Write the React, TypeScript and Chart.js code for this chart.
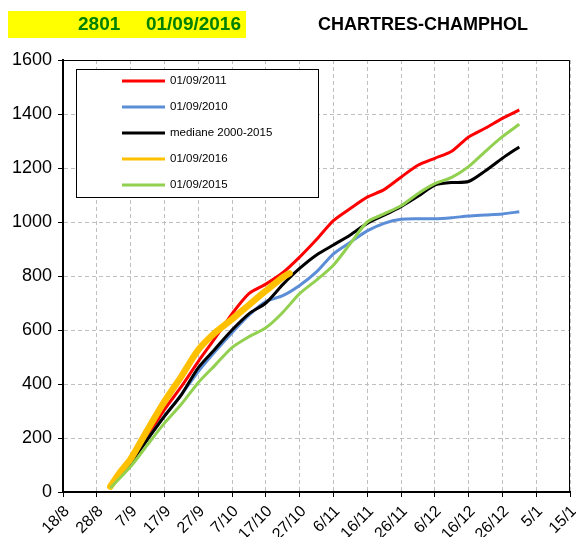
import React, { useEffect, useRef } from "react";
import { Chart, registerables } from "chart.js";

Chart.register(...registerables);

// ---- data ----
const xTickLabels = ["18/8", "28/8", "7/9", "17/9", "27/9", "7/10", "17/10", "27/10", "6/11", "16/11", "26/11", "6/12", "16/12", "26/12", "5/1", "15/1"];
const yTicks = [0, 200, 400, 600, 800, 1000, 1200, 1400, 1600];

// days counted from 18/8
const days = [14, 20, 25, 30, 35, 40, 45, 50, 55, 60, 65, 70, 75, 80, 85, 90, 95, 100, 105, 110, 115, 120, 125, 130, 135];
const red2011 = [20, 106, 205, 305, 390, 483, 570, 660, 735, 770, 812, 870, 935, 1005, 1050, 1092, 1120, 1166, 1210, 1236, 1262, 1315, 1348, 1384, 1415];
const blue2010 = [18, 106, 195, 282, 360, 446, 520, 590, 655, 705, 727, 765, 815, 882, 925, 967, 995, 1010, 1012, 1012, 1016, 1022, 1026, 1030, 1038];
const median = [18, 106, 195, 280, 360, 460, 530, 600, 660, 700, 768, 828, 878, 915, 952, 995, 1025, 1057, 1095, 1137, 1146, 1150, 1190, 1236, 1278];
const green2015 = [15, 94, 175, 255, 325, 405, 470, 535, 575, 608, 665, 735, 785, 840, 920, 1000, 1030, 1060, 1105, 1142, 1165, 1205, 1262, 1316, 1362];
const orangeDays = [14, 17, 20, 25, 30, 35, 40, 45, 50, 55, 60, 65, 67];
const orange2016 = [20, 75, 122, 230, 335, 428, 526, 590, 640, 693, 745, 795, 810];

const seriesNames = ["01/09/2011", "01/09/2010", "mediane 2000-2015", "01/09/2016", "01/09/2015"];
const seriesColors = ["#FF0000", "#5B8ED6", "#000000", "#FFC000", "#92D050"];

const titleCode = "2801";
const titleDate = "01/09/2016";
const stationName = "CHARTRES-CHAMPHOL";

const FONT = 'Arial, "Liberation Sans", sans-serif';

const toPoints = (xs: number[], ys: number[]) => xs.map((x, i) => ({ x, y: ys[i] }));

const titlePlugin = {
  id: "titleBox",
  beforeDraw(chart: any) {
    const ctx = chart.ctx;
    ctx.save();
    ctx.fillStyle = "#FFFF00";
    ctx.fillRect(8, 11, 238, 27);
    ctx.fillStyle = "#008000";
    ctx.font = `bold 19px ${FONT}`;
    ctx.textBaseline = "middle";
    ctx.textAlign = "left";
    ctx.fillText(titleCode, 78, 25);
    ctx.textAlign = "right";
    ctx.fillText(titleDate, 241, 25);
    ctx.fillStyle = "#000";
    ctx.font = `bold 18px ${FONT}`;
    ctx.textAlign = "left";
    ctx.fillText(stationName, 318, 25);
    ctx.restore();
  },
};

const frameLegendPlugin = {
  id: "frameLegend",
  afterDraw(chart: any) {
    const ctx = chart.ctx;
    const a = chart.chartArea;
    ctx.save();
    ctx.strokeStyle = "#000";
    ctx.lineWidth = 1;
    ctx.beginPath();
    ctx.moveTo(a.left, a.top + 0.5);
    ctx.lineTo(a.right - 0.5, a.top + 0.5);
    ctx.lineTo(a.right - 0.5, a.bottom);
    ctx.stroke();

    // legend box
    ctx.fillStyle = "#fff";
    ctx.fillRect(76, 69, 243, 129);
    ctx.strokeRect(76.5, 69.5, 242, 128);
    ctx.font = `11.5px ${FONT}`;
    ctx.textBaseline = "middle";
    ctx.textAlign = "left";
    seriesNames.forEach((name, i) => {
      const y = 81 + i * 26;
      ctx.strokeStyle = seriesColors[i];
      ctx.lineWidth = 3;
      ctx.beginPath();
      ctx.moveTo(122, y);
      ctx.lineTo(165, y);
      ctx.stroke();
      ctx.fillStyle = "#000";
      ctx.fillText(name, 170, y);
    });
    ctx.restore();
  },
};

export default function App() {
  const ref = useRef<HTMLCanvasElement | null>(null);

  useEffect(() => {
    if (!ref.current) return;
    const common = { pointRadius: 0, tension: 0.25, fill: false };
    const chart = new Chart(ref.current, {
      type: "line",
      data: {
        datasets: [
          { ...common, label: seriesNames[0], data: toPoints(days, red2011), borderColor: seriesColors[0], borderWidth: 3, order: 5 },
          { ...common, label: seriesNames[1], data: toPoints(days, blue2010), borderColor: seriesColors[1], borderWidth: 3, order: 4 },
          { ...common, label: seriesNames[2], data: toPoints(days, median), borderColor: seriesColors[2], borderWidth: 3, order: 3 },
          { ...common, label: seriesNames[3], data: toPoints(orangeDays, orange2016), borderColor: seriesColors[3], borderWidth: 6.5, borderCapStyle: "round", order: 2 },
          { ...common, label: seriesNames[4], data: toPoints(days, green2015), borderColor: seriesColors[4], borderWidth: 3, order: 1 },
        ],
      },
      options: {
        animation: false,
        responsive: false,
        maintainAspectRatio: false,
        layout: { padding: { top: 60, right: 6, left: 0, bottom: 0 } },
        plugins: { legend: { display: false }, tooltip: { enabled: false }, title: { display: false } },
        scales: {
          x: {
            type: "linear",
            min: 0,
            max: 150,
            ticks: {
              stepSize: 10,
              autoSkip: false,
              minRotation: 45,
              maxRotation: 45,
              color: "#000",
              padding: 5,
              labelOffset: 4,
              font: { size: 16, family: FONT },
              callback: (v: any) => xTickLabels[Math.round(Number(v) / 10)] ?? "",
            },
            grid: { color: "#BFBFBF", lineWidth: 1, tickColor: "#000", tickLength: 5, tickWidth: 1 },
            border: { display: true, color: "#000", width: 2, dash: [4, 3] },
            afterFit: (s: any) => {
              s.height = 45;
              s.paddingLeft = 0;
              s.paddingRight = 0;
            },
          },
          y: {
            min: 0,
            max: 1600,
            afterBuildTicks: (s: any) => {
              s.ticks = yTicks.map((v) => ({ value: v }));
            },
            ticks: {
              color: "#000",
              padding: 6,
              font: { size: 18, family: FONT },
              callback: (v: any) => String(v),
            },
            grid: { color: "#BFBFBF", lineWidth: 1, tickColor: "#000", tickLength: 5, tickWidth: 1 },
            border: { display: true, color: "#000", width: 2, dash: [4, 3] },
            afterFit: (s: any) => {
              s.width = 63;
              s.paddingTop = 0;
              s.paddingBottom = 0;
            },
          },
        },
      } as any,
      plugins: [titlePlugin, frameLegendPlugin],
    });
    return () => chart.destroy();
  }, []);

  return (
    <div style={{ position: "absolute", left: 0, top: 0, width: 576, height: 537, overflow: "hidden", background: "#fff" }}>
      <canvas ref={ref} width={576} height={537} style={{ display: "block" }} />
    </div>
  );
}
